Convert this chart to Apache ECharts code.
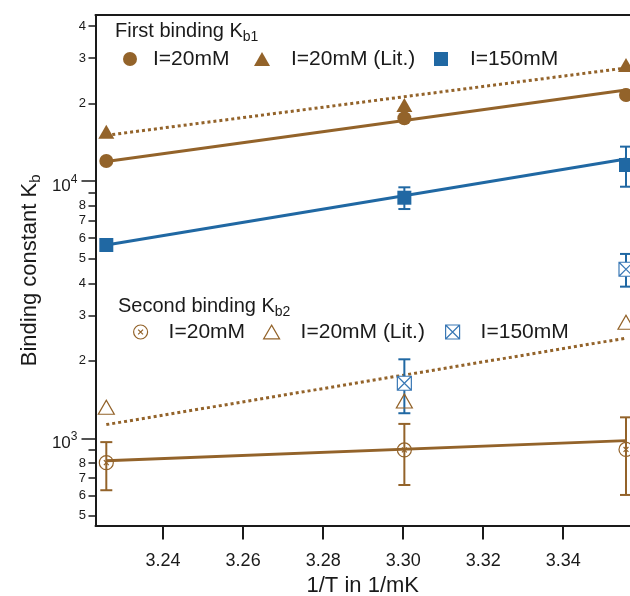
<!DOCTYPE html>
<html>
<head>
<meta charset="utf-8">
<script src="https://cdn.jsdelivr.net/npm/echarts@6/dist/echarts.min.js"></script>
<style>
html, body { margin: 0; padding: 0; background: #fff; }
#chart { width: 630px; height: 596px; }
</style>
</head>
<body>
<div id="chart"></div>
<script>
// 1/T in 1/mK  (37, 30, 25 degC)
var invT = [3.2258, 3.3003, 3.3557];
var fitX = [3.2258, 3.3557];

// first binding constant
var kb1_20 = [11960, 17530, 21590];
var kb1_lit = [15550, 19740, 28240];
var kb1_150 = [5640, 8610, 11540];
var kb1_150Lo = [null, 7780, 9500];
var kb1_150Hi = [null, 9450, 13600];

// second binding constant
var kb2_20 = [804, 901, 905];
var kb2_20Lo = [628, 658, 602];
var kb2_20Hi = [966, 1137, 1206];
var kb2_lit = [1320, 1396, 2824];
var kb2_150 = [null, 1636, 4538];
var kb2_150Lo = [null, 1251, 3884];
var kb2_150Hi = [null, 2027, 5205];

// fitted lines (value at fitX ends)
var fitKb1_20 = [11900, 22600];
var fitKb1_lit = [15050, 27500];
var fitKb1_150 = [5640, 12180];
var fitKb2_20 = [818, 979];
var fitKb2_lit = [1130, 2450];

// axis ticks
var xTicks = [3.24, 3.26, 3.28, 3.30, 3.32, 3.34];
var yMinorTicks = [500, 600, 700, 800, 900, 2000, 3000, 4000, 5000, 6000, 7000, 8000, 9000, 20000, 30000, 40000];
var yMajorTicks = [1000, 10000];

// the frame runs past the right edge of the picture
var X_MIN = 3.2231, X_MAX = 3.3567;
var Y_MIN = 458, Y_MAX = 44100;

var BROWN = '#93632a';
var BLUE = '#2068a3';
var INK = '#1a1a1a';
var FONT = 'Liberation Sans, Arial, Helvetica, sans-serif';

var CIRCLE_X = 'path://M10,0 A10,10 0 1,1 10,20 A10,10 0 1,1 10,0 Z M6.5,6.5 L13.5,13.5 M13.5,6.5 L6.5,13.5';
var BOX_X = 'path://M0,0 L20,0 L20,20 L0,20 Z M0,0 L20,20 M20,0 L0,20';
var OPEN_TRI = 'path://M10,0 L20,17.3 L0,17.3 Z';

var names = {
  k1_20: 'I=20mM', k1_lit: 'I=20mM (Lit.)', k1_150: 'I=150mM',
  k2_20: 'I=20mM', k2_lit: 'I=20mM (Lit.)', k2_150: 'I=150mM'
};

function pairs(xs, ys) {
  var out = [];
  for (var i = 0; i < xs.length; i++) {
    if (ys[i] != null) out.push([xs[i], ys[i]]);
  }
  return out;
}

function ranges(xs, lo, hi) {
  var out = [];
  for (var i = 0; i < xs.length; i++) {
    if (lo[i] != null) out.push([xs[i], lo[i], hi[i]]);
  }
  return out;
}

function fitLine(vals, color, dotted) {
  return {
    type: 'line', data: pairs(fitX, vals), showSymbol: false, silent: true, z: 2,
    lineStyle: { color: color, width: 3, type: dotted ? [3, 3] : 'solid', cap: 'butt' }
  };
}

function errorBars(xs, lo, hi, color) {
  return {
    type: 'custom', data: ranges(xs, lo, hi), z: 3, silent: true,
    encode: { x: 0, y: [1, 2] },
    renderItem: function (params, api) {
      var a = api.coord([api.value(0), api.value(1)]);
      var b = api.coord([api.value(0), api.value(2)]);
      var w = 6;
      var st = { stroke: color, lineWidth: 2 };
      return {
        type: 'group', children: [
          { type: 'line', shape: { x1: a[0], y1: a[1], x2: b[0], y2: b[1] }, style: st },
          { type: 'line', shape: { x1: a[0] - w, y1: a[1], x2: a[0] + w, y2: a[1] }, style: st },
          { type: 'line', shape: { x1: b[0] - w, y1: b[1], x2: b[0] + w, y2: b[1] }, style: st }
        ]
      };
    }
  };
}

function markers(name, vals, symbol, size, style) {
  return {
    name: name, type: 'scatter', data: pairs(invT, vals), z: 5,
    symbol: symbol, symbolSize: size, itemStyle: style, silent: true
  };
}

function legendItem(name, icon, w, left, textLeft, top, style) {
  return {
    data: [{ name: name, icon: icon, itemStyle: style }],
    left: left, top: top, padding: 0, itemWidth: w, itemHeight: 14,
    selectedMode: false,
    formatter: function (n) { return names[n]; },
    textStyle: {
      fontFamily: FONT, fontSize: 21, lineHeight: 22, color: INK,
      padding: [0, 0, 0, textLeft - (left + w + 5)]
    }
  };
}

var fillBrown = { color: BROWN, opacity: 1 };
var fillBlue = { color: BLUE, opacity: 1 };
var openBrown = { color: 'rgba(255,255,255,0)', borderColor: BROWN, borderWidth: 1.2, opacity: 1 };
var openBlue = { color: '#fff', borderColor: '#3a78b5', borderWidth: 1.2, opacity: 1 };

var chart = echarts.init(document.getElementById('chart'));

var subRich = function (size, subSize) {
  return {
    m: { fontFamily: FONT, fontSize: size, fontWeight: 'normal', lineHeight: size + 6, color: INK },
    s: { fontFamily: FONT, fontSize: subSize, fontWeight: 'normal', lineHeight: subSize, verticalAlign: 'bottom', color: INK }
  };
};

var option = {
  animation: false,
  textStyle: { fontFamily: FONT },
  title: [
    { text: '{m|First binding K}{s|b1}', left: 115, top: 18, padding: 0,
      textStyle: { fontWeight: 'normal', rich: subRich(20, 14) } },
    { text: '{m|Second binding K}{s|b2}', left: 118, top: 293, padding: 0,
      textStyle: { fontWeight: 'normal', rich: subRich(20, 14) } }
  ],
  legend: [
    legendItem('k1_20', 'circle', 14, 123, 153, 48, fillBrown),
    legendItem('k1_lit', 'triangle', 16, 254, 291, 48, fillBrown),
    legendItem('k1_150', 'rect', 14, 434, 470, 48, fillBlue),
    legendItem('k2_20', CIRCLE_X, 14, 133, 168, 321, openBrown),
    legendItem('k2_lit', OPEN_TRI, 16, 263, 300, 321, openBrown),
    legendItem('k2_150', BOX_X, 14, 445, 480, 321, openBlue)
  ],
  grid: {
    left: 95.5, top: 15.2, right: 0, height: 510.3,
    containLabel: false, outerBoundsMode: 'none'
  },
  xAxis: [{
    type: 'value', min: X_MIN, max: X_MAX, position: 'bottom',
    name: '1/T in 1/mK', nameLocation: 'middle', nameGap: 43,
    nameTextStyle: { fontFamily: FONT, fontSize: 22, color: INK },
    axisLine: { lineStyle: { color: INK, width: 2 } },
    axisTick: { customValues: xTicks, length: 14, lineStyle: { color: INK, width: 2 } },
    axisLabel: {
      customValues: xTicks, margin: 27, fontSize: 18, color: INK,
      formatter: function (v) { return v.toFixed(2); }
    },
    splitLine: { show: false }
  }, {
    type: 'value', min: X_MIN, max: X_MAX, position: 'top',
    axisLine: { lineStyle: { color: INK, width: 2 } },
    axisTick: { show: false }, axisLabel: { show: false }, splitLine: { show: false }
  }],
  yAxis: [{
    type: 'log', logBase: 10, min: Y_MIN, max: Y_MAX, position: 'left',
    name: '{m|Binding constant K}{s|b}', nameLocation: 'middle', nameGap: 52, nameRotate: 90,
    nameTextStyle: { rich: subRich(22, 15) },
    axisLine: { show: false }, axisTick: { show: false }, axisLabel: { show: false },
    splitLine: { show: false }, minorTick: { show: false }
  }, {
    type: 'value', min: Math.log10(Y_MIN), max: Math.log10(Y_MAX), position: 'left', offset: 0,
    axisLine: { show: false },
    axisTick: { customValues: yMinorTicks.map(Math.log10), length: 7, lineStyle: { color: INK, width: 1.5 } },
    axisLabel: {
      customValues: yMinorTicks.map(Math.log10), margin: 9.5, fontSize: 13, color: INK,
      formatter: function (v) {
        var n = Math.round(Math.pow(10, v));
        var d = Math.round(n / Math.pow(10, Math.floor(Math.log10(n) + 1e-9)));
        return d === 9 ? '' : String(d);
      }
    },
    splitLine: { show: false }
  }, {
    type: 'value', min: Math.log10(Y_MIN), max: Math.log10(Y_MAX), position: 'left', offset: 0,
    axisLine: { lineStyle: { color: INK, width: 2 } },
    axisTick: { customValues: yMajorTicks.map(Math.log10), length: 14, lineStyle: { color: INK, width: 1.5 } },
    axisLabel: {
      customValues: yMajorTicks.map(Math.log10), margin: 18, padding: [11, 0, 0, 0],
      formatter: function (v) { return '{b|10}{p|' + Math.round(v) + '}'; },
      rich: {
        b: { fontFamily: FONT, fontSize: 17, lineHeight: 26, color: INK },
        p: { fontFamily: FONT, fontSize: 12, lineHeight: 12, verticalAlign: 'top', color: INK }
      }
    },
    splitLine: { show: false }
  }],
  series: [
    fitLine(fitKb1_20, BROWN, false),
    fitLine(fitKb1_lit, BROWN, true),
    fitLine(fitKb1_150, BLUE, false),
    fitLine(fitKb2_20, BROWN, false),
    fitLine(fitKb2_lit, BROWN, true),
    errorBars(invT, kb1_150Lo, kb1_150Hi, BLUE),
    errorBars(invT, kb2_20Lo, kb2_20Hi, BROWN),
    errorBars(invT, kb2_150Lo, kb2_150Hi, BLUE),
    markers('k1_20', kb1_20, 'circle', 14, fillBrown),
    markers('k1_lit', kb1_lit, 'triangle', [16, 14], fillBrown),
    markers('k1_150', kb1_150, 'rect', 14, fillBlue),
    markers('k2_20', kb2_20, CIRCLE_X, 14, openBrown),
    markers('k2_lit', kb2_lit, OPEN_TRI, [16, 14], openBrown),
    markers('k2_150', kb2_150, BOX_X, 14, openBlue)
  ]
};

chart.setOption(option);
</script>
</body>
</html>
